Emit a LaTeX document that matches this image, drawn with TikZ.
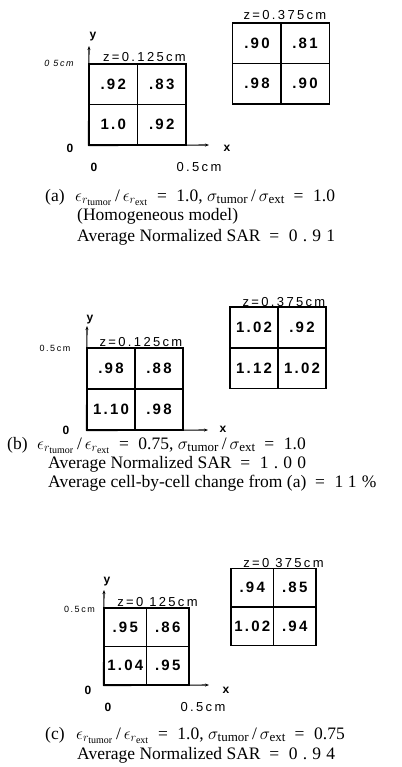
\documentclass[tikz,border=0pt]{standalone}
\usepackage{amsmath}
\usepackage{fontspec}
\setmainfont{Liberation Serif}
\newfontfamily\gridfont[LetterSpace=15]{Liberation Sans}
\newfontfamily\zfont[LetterSpace=18]{Liberation Sans}
\newfontfamily\capnum[LetterSpace=30]{Liberation Serif}
\DeclareMathSizes{17.5}{17.5}{13}{10}
\usetikzlibrary{arrows.meta}
\newcommand{\epsr}[1]{$\epsilon_{r_{\mathrm{#1}}}$}
\newcommand{\sig}[1]{$\sigma_{\mathrm{#1}}$}
\newcommand{\capeq}{\hspace{0.5em}=\hspace{0.55em}}

\begin{document}
\begin{tikzpicture}[
    x=1pt, y=-1pt,
    cell/.style={rectangle, draw, line width=1.2pt, inner sep=0pt, font=\gridfont\bfseries\fontsize{15}{15}\selectfont},
    cellA/.style={cell, minimum width=48.5pt, minimum height=40.5pt},
    cellB/.style={cell, minimum width=48pt, minimum height=41pt},
    cellC/.style={cell, minimum width=42.5pt, minimum height=38.5pt},
    axis/.style={-{Stealth[length=4pt,width=3pt]}, line width=1.1pt},
    zlab/.style={font=\zfont\fontsize{13}{13}\selectfont},
    axlab/.style={font=\gridfont\bfseries\fontsize{12}{12}\selectfont},
    unitlab/.style={font=\zfont\fontsize{9}{9}\selectfont},
    captext/.style={anchor=base west, inner sep=0pt, font=\fontsize{17.5}{20}\selectfont}
]
\useasboundingbox (0,0) rectangle (401,767);

% Panel (a): homogeneous model
\node[cellA] (a11) at (113.25,84.25) {.92};
\node[cellA] (a12) at (161.75,84.25) {.83};
\node[cellA] (a21) at (113.25,124.75) {1.0};
\node[cellA] (a22) at (161.75,124.75) {.92};
\node[zlab] (aZlo) at (144.5,57) {z=0.125cm};

\node[cellA] (b11) at (257,43.25) {.90};
\node[cellA] (b12) at (305,43.25) {.81};
\node[cellA] (b21) at (257,83.75) {.98};
\node[cellA] (b22) at (305,83.75) {.90};
\node[zlab] (aZhi) at (285,15) {z=0.375cm};

% axes
\coordinate (aYtip) at (89,46);
\coordinate (aXtip) at (209,145);
\draw[axis] (a21.south west) -- (aYtip);
\draw[axis] (a21.south west) -- (aXtip);
\node[axlab] (aY) at (93,37) {y};
\node[axlab] (aX) at (227,148) {x};
\node[axlab] (aO) at (70,148) {0};
\node[axlab] (aOx) at (94,167) {0};
\node[zlab] (aHx) at (199,167) {0.5cm};
\node[unitlab, font=\itshape\zfont\fontsize{9}{9}\selectfont] (aHy) at (59,63) {0 5cm};

% caption (a)
\node[captext] (capA) at (45,201) {(a)};
\node[captext] (capA1) at (75,201) {\epsr{tumor}\,/\,\epsr{ext}\capeq 1.0,\ \sig{tumor}\,/\,\sig{ext}\capeq 1.0};
\node[captext] (capA2) at (77,221) {(Homogeneous model)};
\node[captext] (capA3) at (77,241) {Average Normalized SAR\capeq{\capnum 0.91}};

% Panel (b): lower permittivity in the tumor
\node[cellB] (c11) at (111,368.5) {.98};
\node[cellB] (c12) at (159,368.5) {.88};
\node[cellB] (c21) at (111,409.5) {1.10};
\node[cellB] (c22) at (159,409.5) {.98};
\node[zlab] (bZlo) at (141,342) {z=0.125cm};

\node[cellB] (d11) at (254,327.5) {1.02};
\node[cellB] (d12) at (302,327.5) {.92};
\node[cellB] (d21) at (254,368) {1.12};
\node[cellB] (d22) at (302,368) {1.02};
\node[zlab] (bZhi) at (284,302) {z=0.375cm};

% axes
\coordinate (bYtip) at (87,326);
\coordinate (bXtip) at (208,430);
\draw[axis] (c21.south west) -- (bYtip);
\draw[axis] (c21.south west) -- (bXtip);
\node[axlab] (bY) at (90,320) {y};
\node[axlab] (bX) at (223,429) {x};
\node[axlab] (bO) at (66,430) {0};
\node[unitlab] (bHy) at (55,348) {0.5cm};

% caption (b)
\node[captext] (capB) at (7,449) {(b)};
\node[captext] (capB1) at (37,449) {\epsr{tumor}\,/\,\epsr{ext}\capeq 0.75,\ \sig{tumor}\,/\,\sig{ext}\capeq 1.0};
\node[captext] (capB2) at (48,468) {Average Normalized SAR\capeq{\capnum 1.00}};
\node[captext] (capB3) at (48,487) {Average cell-by-cell change from (a)\capeq{\capnum 11\%}};

% Panel (c): lower conductivity in the tumor
\node[cellC] (e11) at (125.25,627.25) {.95};
\node[cellC] (e12) at (167.75,627.25) {.86};
\node[cellC] (e21) at (125.25,665.75) {1.04};
\node[cellC] (e22) at (167.75,665.75) {.95};
\node[zlab] (cZlo) at (157.5,602) {z=0 125cm};

\node[cellC] (f11) at (252.25,587.5) {.94};
\node[cellC] (f12) at (294.75,587.5) {.85};
\node[cellC] (f21) at (252.25,626.5) {1.02};
\node[cellC] (f22) at (294.75,626.5) {.94};
\node[zlab] (cZhi) at (283.5,563) {z=0 375cm};

% axes
\coordinate (cYtip) at (104,590);
\coordinate (cXtip) at (209,685);
\draw[axis] (e21.south west) -- (cYtip);
\draw[axis] (e21.south west) -- (cXtip);
\node[axlab] (cY) at (107,582) {y};
\node[axlab] (cX) at (226,690) {x};
\node[axlab] (cO) at (88,690) {0};
\node[axlab] (cOx) at (108,707) {0};
\node[zlab] (cHx) at (203,707) {0.5cm};
\node[unitlab] (cHy) at (79.5,609) {0.5cm};

% caption (c)
\node[captext] (capC) at (45,739) {(c)};
\node[captext] (capC1) at (76,739) {\epsr{tumor}\,/\,\epsr{ext}\capeq 1.0,\ \sig{tumor}\,/\,\sig{ext}\capeq 0.75};
\node[captext] (capC2) at (77,759) {Average Normalized SAR\capeq{\capnum 0.94}};

\end{tikzpicture}
\end{document}
